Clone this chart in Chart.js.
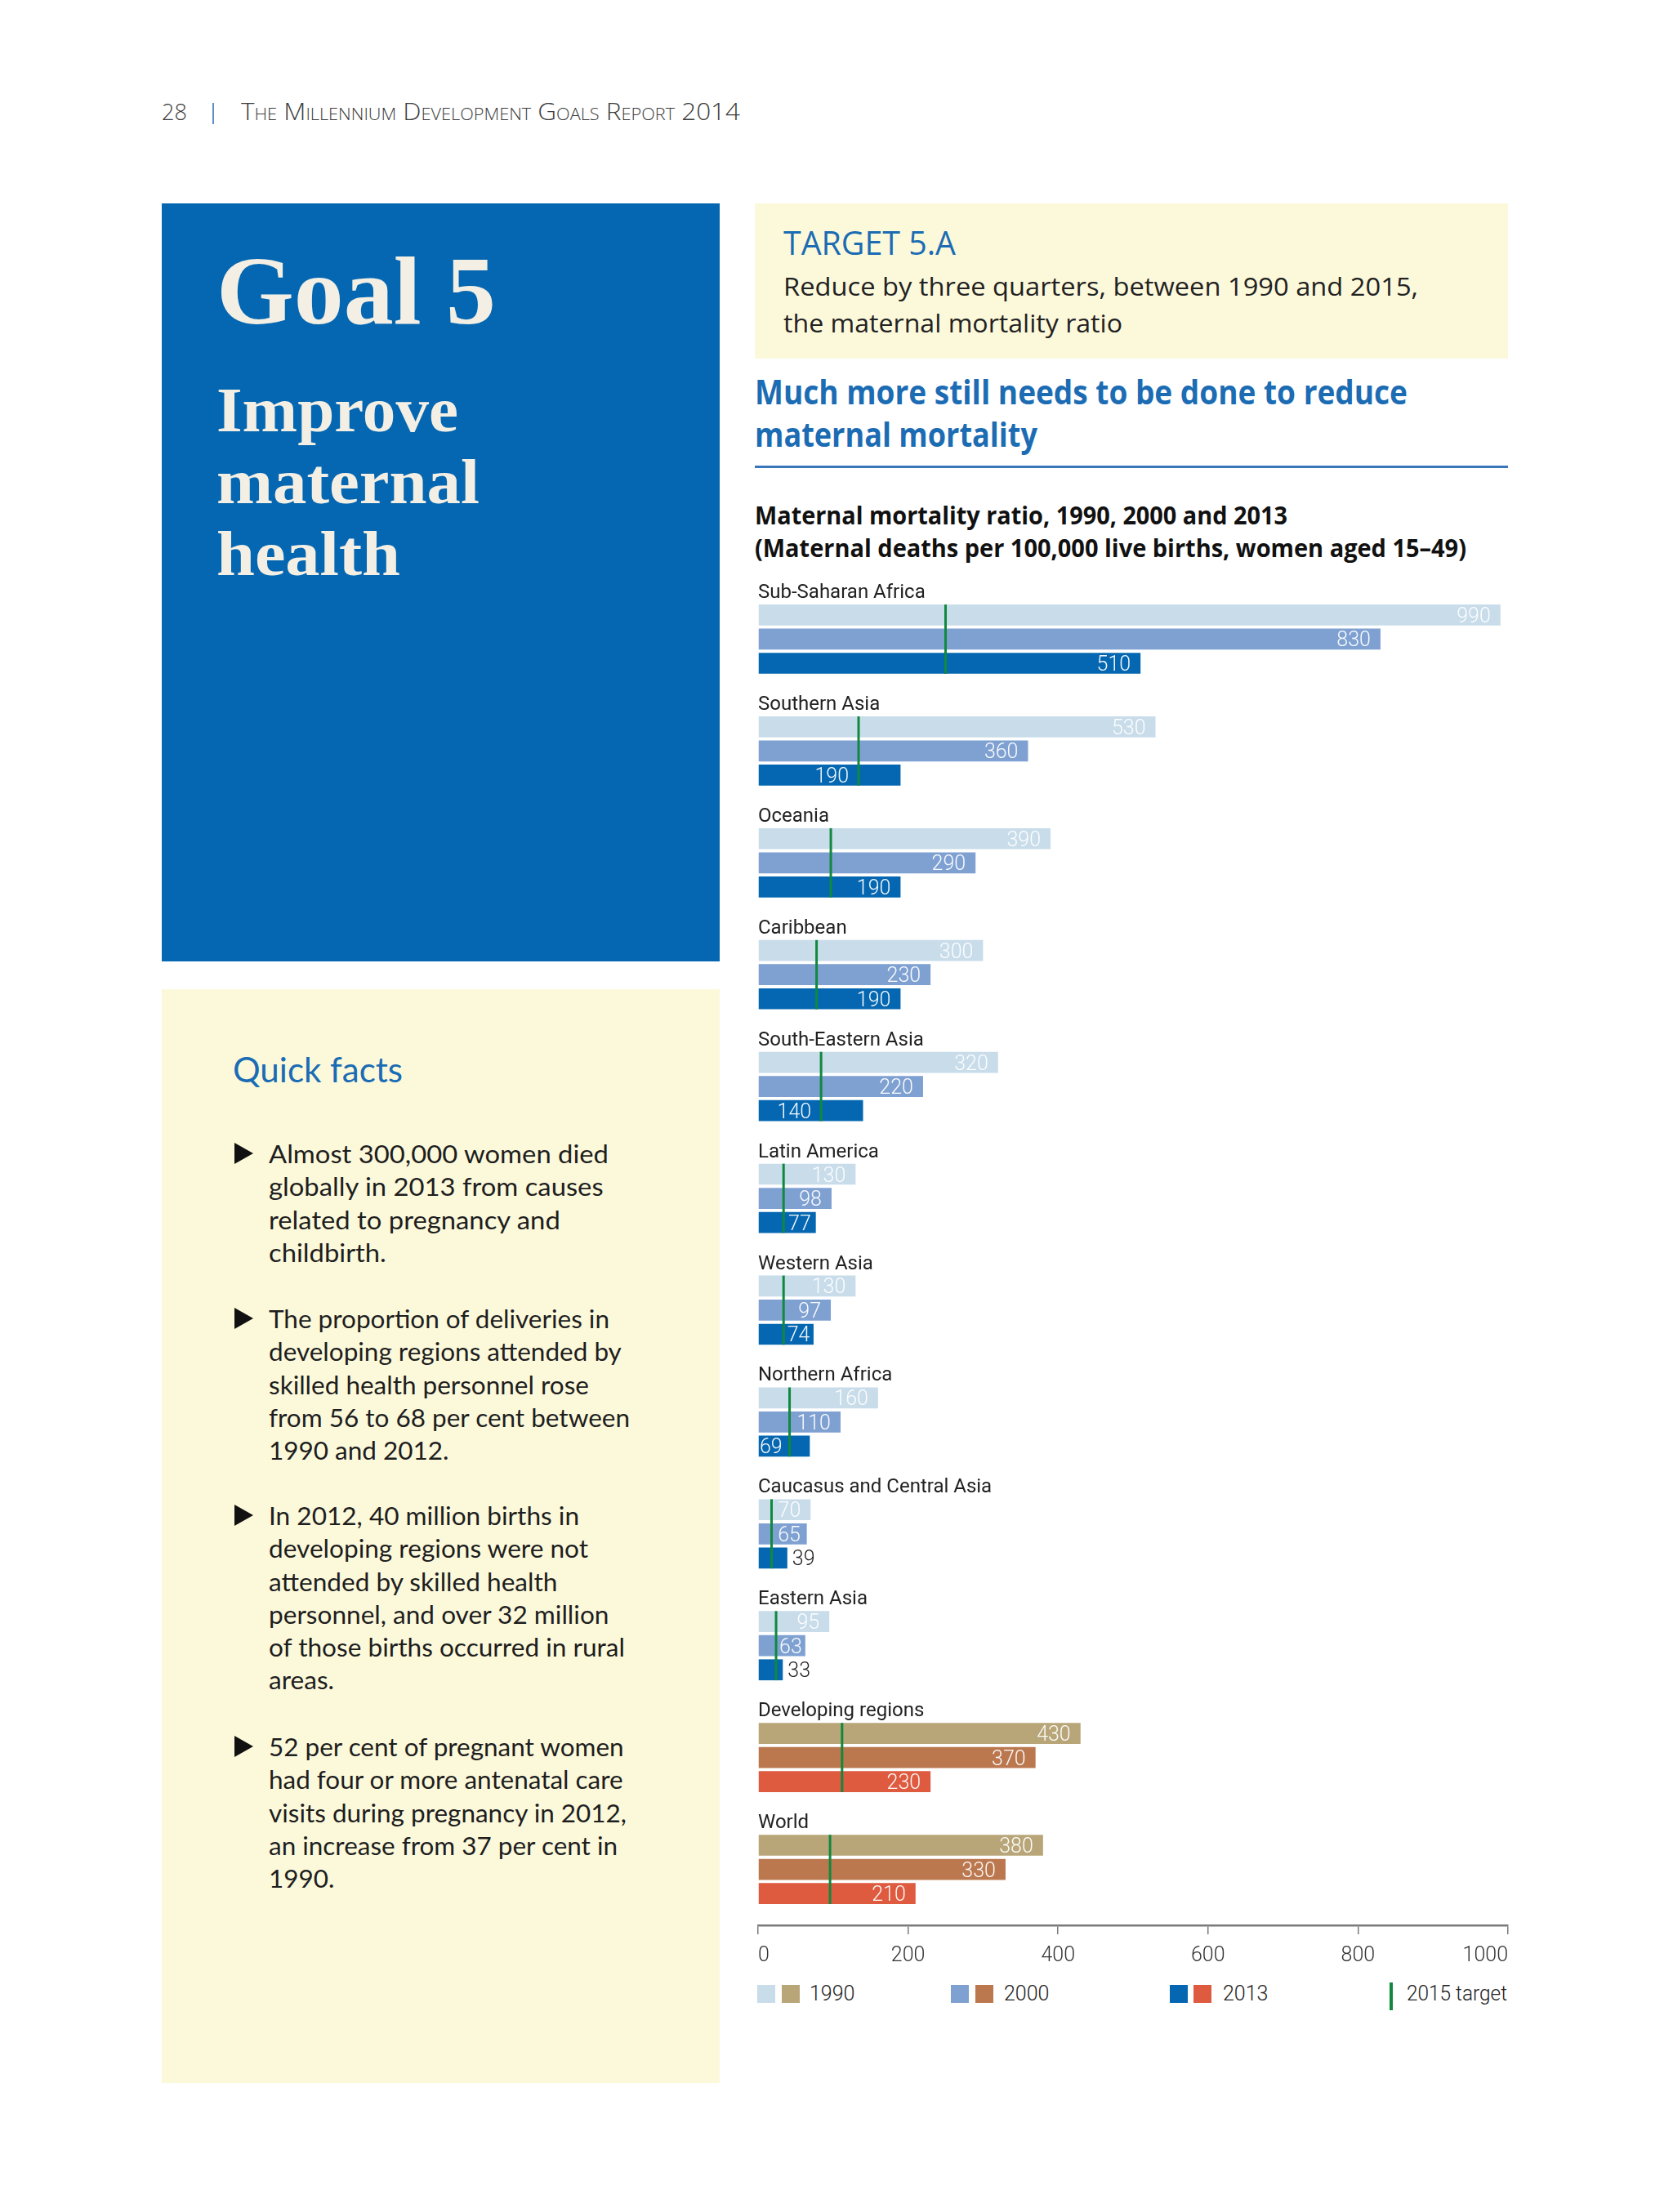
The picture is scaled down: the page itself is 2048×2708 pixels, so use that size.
<!DOCTYPE html>
<html>
<head>
<meta charset="utf-8">
<title>Goal 5 - Maternal mortality ratio</title>
<script src="https://cdn.jsdelivr.net/npm/chart.js@4.4.1/dist/chart.umd.min.js"></script>
<style>
  html, body { margin: 0; padding: 0; background: #fff; }
  #page { position: relative; width: 2048px; height: 2708px; overflow: hidden; background: #fff; }
  .box { position: absolute; }
  .t { position: absolute; white-space: nowrap; transform-origin: 0 0; line-height: 1.2; }
  .serif { font-family: 'Liberation Serif', 'DejaVu Serif', serif; font-weight: 700; color: #f3efe4; }
  .qf { font: 400 30px Lato, 'Open Sans', sans-serif; color: #1e1e1e; line-height: 40.3px; }
  .tri { position: absolute; width: 0; height: 0; border-left: 23px solid #111;
         border-top: 13px solid transparent; border-bottom: 13px solid transparent; }
  .sw { position: absolute; width: 22px; height: 22px; }
  .lg { font: 300 25px Roboto, sans-serif; color: #222; }
</style>
</head>
<body>
<div id="page">

  <!-- running header -->
  <div class="t" data-x="198" data-b="147" style="font:300 27px 'Open Sans';color:#3c3c3c">28</div>
  <div class="box" style="left:260px;top:126px;width:2px;height:26px;background:#5b8fc8"></div>
  <div class="t" data-x="295" data-b="147" data-w="611" style="font:300 29px 'Open Sans';font-variant:small-caps;color:#3c3c3c">The Millennium Development Goals Report 2014</div>

  <!-- goal block -->
  <div class="box" style="left:198px;top:249px;width:683px;height:928px;background:#0567b1"></div>
  <div class="t serif" data-x="265" data-b="396" data-w="342" style="font-size:118px">Goal 5</div>
  <div class="t serif" data-x="265" data-b="528" data-w="296" style="font-size:78px">Improve</div>
  <div class="t serif" data-x="265" data-b="616" data-w="322" style="font-size:78px">maternal</div>
  <div class="t serif" data-x="265" data-b="704" data-w="225" style="font-size:78px">health</div>

  <!-- target box -->
  <div class="box" style="left:924px;top:249px;width:922px;height:190px;background:#fcf9db"></div>
  <div class="t" data-x="959" data-b="312" data-w="211" style="font:400 40px 'Open Sans';color:#1b6cb3">TARGET 5.A</div>
  <div class="t" data-x="959" data-b="362" data-w="777" style="font:400 31px 'Open Sans';color:#222">Reduce by three quarters, between 1990 and 2015,</div>
  <div class="t" data-x="959" data-b="407" data-w="415" style="font:400 31px 'Open Sans';color:#222">the maternal mortality ratio</div>

  <!-- heading -->
  <div class="t" data-x="924" data-b="495" data-w="799" style="font:700 42px 'Open Sans';color:#1c6cb4">Much more still needs to be done to reduce</div>
  <div class="t" data-x="924" data-b="547" data-w="346" style="font:700 42px 'Open Sans';color:#1c6cb4">maternal mortality</div>
  <div class="box" style="left:924px;top:570px;width:922px;height:3px;background:#3a76b9"></div>

  <!-- chart title -->
  <div class="t" data-x="924" data-b="642" data-w="652" style="font:700 31px 'Open Sans';color:#111">Maternal mortality ratio, 1990, 2000 and 2013</div>
  <div class="t" data-x="924" data-b="682" data-w="871" style="font:700 31px 'Open Sans';color:#111">(Maternal deaths per 100,000 live births, women aged 15–49)</div>

  <!-- chart -->
  <div class="box" style="left:900px;top:680px;width:980px;height:1737px">
    <canvas id="mmrChart" width="980" height="1737"></canvas>
  </div>

  <!-- legend -->
  <div class="sw" style="left:927px;top:2430px;background:#c8dcea"></div>
  <div class="sw" style="left:957px;top:2430px;background:#b8a679"></div>
  <div class="t lg" data-x="991" data-b="2449">1990</div>
  <div class="sw" style="left:1164px;top:2430px;background:#7fa1d2"></div>
  <div class="sw" style="left:1194px;top:2430px;background:#bb784f"></div>
  <div class="t lg" data-x="1229" data-b="2449">2000</div>
  <div class="sw" style="left:1432px;top:2430px;background:#0567b1"></div>
  <div class="sw" style="left:1461px;top:2430px;background:#de5b40"></div>
  <div class="t lg" data-x="1497" data-b="2449">2013</div>
  <div class="box" style="left:1701px;top:2427px;width:4px;height:34px;background:#10893e"></div>
  <div class="t lg" data-x="1722" data-b="2449" data-w="123">2015 target</div>

  <!-- quick facts -->
  <div class="box" style="left:198px;top:1211px;width:683px;height:1339px;background:#fcf9db"></div>
  <div class="t" data-x="285" data-b="1325" data-w="208" style="font:400 42px Lato, 'Open Sans';color:#1a6cb4">Quick facts</div>

  <div class="tri" style="left:287px;top:1399px"></div>
  <div class="t qf" data-x="329" data-b="1424" data-w="416">Almost 300,000 women died<br>globally in 2013 from causes<br>related to pregnancy and<br>childbirth.</div>

  <div class="tri" style="left:287px;top:1601px"></div>
  <div class="t qf" data-x="329" data-b="1626" data-w="442">The proportion of deliveries in<br>developing regions attended by<br>skilled health personnel rose<br>from 56 to 68 per cent between<br>1990 and 2012.</div>

  <div class="tri" style="left:287px;top:1842px"></div>
  <div class="t qf" data-x="329" data-b="1867" data-w="436">In 2012, 40 million births in<br>developing regions were not<br>attended by skilled health<br>personnel, and over 32 million<br>of those births occurred in rural<br>areas.</div>

  <div class="tri" style="left:287px;top:2125px"></div>
  <div class="t qf" data-x="329" data-b="2150" data-w="438">52 per cent of pregnant women<br>had four or more antenatal care<br>visits during pregnancy in 2012,<br>an increase from 37 per cent in<br>1990.</div>

</div>

<script>
// ---------- data ----------
const regions = [
  'Sub-Saharan Africa', 'Southern Asia', 'Oceania', 'Caribbean', 'South-Eastern Asia',
  'Latin America', 'Western Asia', 'Northern Africa', 'Caucasus and Central Asia',
  'Eastern Asia', 'Developing regions', 'World'
];
const aggregates = ['Developing regions', 'World'];
const years = ['1990', '2000', '2013'];

const mmr1990 = [990, 530, 390, 300, 320, 130, 130, 160, 70, 95, 430, 380];
const mmr2000 = [830, 360, 290, 230, 220, 98, 97, 110, 65, 63, 370, 330];
const mmr2013 = [510, 190, 190, 190, 140, 77, 74, 69, 39, 33, 230, 210];

// 2015 target marks, as drawn
const target2015 = [250, 134, 97, 78, 84, 34, 34, 42, 18, 24, 112, 96];

const xTicks = [0, 200, 400, 600, 800, 1000];

// ---------- colours ----------
const regionColors = ['#c8dcea', '#7fa1d2', '#0567b1'];
const aggregateColors = ['#b8a679', '#bb784f', '#de5b40'];
const targetColor = '#10893e';

function barColors(yearIndex) {
  return regions.map(r => aggregates.includes(r) ? aggregateColors[yearIndex] : regionColors[yearIndex]);
}

// ---------- page text placement (baseline + width fit) ----------
function placeText() {
  document.querySelectorAll('.t').forEach(el => {
    const mark = document.createElement('span');
    mark.style.cssText = 'display:inline-block;width:0;height:0;vertical-align:baseline';
    el.insertBefore(mark, el.firstChild);
    el.style.left = el.dataset.x + 'px';
    el.style.top = '0px';
    const off = mark.getBoundingClientRect().top - el.getBoundingClientRect().top;
    el.style.top = (parseFloat(el.dataset.b) - off) + 'px';
    if (el.dataset.w) {
      const w = el.getBoundingClientRect().width;
      el.style.transform = 'scaleX(' + (parseFloat(el.dataset.w) / w).toFixed(4) + ')';
    }
  });
}
placeText();

// ---------- value label placement, keeps clear of the target mark ----------
function valueLabelX(w, xEnd, xLine, x0) {
  const pad = 12;
  if (xEnd - pad - w >= xLine + 6) return { x: xEnd - pad - w, inside: true };
  if (xLine - x0 >= w + 20) return { x: xLine - 12 - w, inside: true };
  if (xEnd - xLine >= w + 4) return { x: (xLine + xEnd - w) / 2, inside: true };
  if (xLine - x0 >= w + 4) return { x: x0 + 2, inside: true };
  return { x: xEnd + 6, inside: false };
}

const annotatePlugin = {
  id: 'annotate',
  afterDatasetsDraw(chart) {
    const { ctx, chartArea, scales: { x } } = chart;
    const metas = [0, 1, 2].map(i => chart.getDatasetMeta(i));
    const x0 = x.getPixelForValue(0);

    ctx.save();
    regions.forEach((name, i) => {
      const first = metas[0].data[i];
      const last = metas[2].data[i];
      const yTop = first.y - first.height / 2;
      const yBottom = last.y + last.height / 2;
      const xLine = x.getPixelForValue(target2015[i]);

      // 2015 target mark
      ctx.strokeStyle = targetColor;
      ctx.lineWidth = 3;
      ctx.beginPath();
      ctx.moveTo(xLine, yTop);
      ctx.lineTo(xLine, yBottom);
      ctx.stroke();

      // region name above its group
      ctx.font = '400 24px Roboto';
      ctx.fillStyle = '#222';
      ctx.textAlign = 'left';
      ctx.textBaseline = 'alphabetic';
      ctx.fillText(name, chartArea.left, yTop - 8);

      // values
      ctx.font = '300 25px Roboto';
      metas.forEach((meta, d) => {
        const bar = meta.data[i];
        const text = String(chart.data.datasets[d].data[i]);
        const w = ctx.measureText(text).width;
        const pos = valueLabelX(w, bar.x, xLine, x0);
        ctx.fillStyle = pos.inside ? 'rgba(255,255,255,0.95)' : '#222';
        ctx.fillText(text, pos.x, bar.y + 9);
      });
    });
    ctx.restore();
  }
};

new Chart(document.getElementById('mmrChart'), {
  type: 'bar',
  data: {
    labels: regions,
    datasets: [
      { label: years[0], data: mmr1990, backgroundColor: barColors(0) },
      { label: years[1], data: mmr2000, backgroundColor: barColors(1) },
      { label: years[2], data: mmr2013, backgroundColor: barColors(2) }
    ]
  },
  options: {
    indexAxis: 'y',
    responsive: false,
    animation: false,
    layout: { padding: { top: 34, left: 28, right: 34, bottom: 0 } },
    datasets: {
      bar: { categoryPercentage: 0.647, barPercentage: 0.871, borderWidth: 0 }
    },
    plugins: {
      legend: { display: false },
      tooltip: { enabled: false }
    },
    scales: {
      x: {
        type: 'linear',
        min: 0,
        max: 1000,
        afterBuildTicks: s => { s.ticks = xTicks.map(v => ({ value: v })); },
        afterFit: s => { s.height = 60; },
        ticks: {
          align: 'inner',
          padding: 12,
          color: '#333',
          font: { family: 'Roboto', weight: '300', size: 25 },
          callback: v => String(v)
        },
        grid: { drawOnChartArea: false, drawTicks: true, tickLength: 11, color: '#7a7a7a', lineWidth: 1.5 },
        border: { display: true, color: '#7a7a7a', width: 2.5 }
      },
      y: {
        display: false,
        grid: { display: false }
      }
    }
  },
  plugins: [annotatePlugin]
});
</script>
</body>
</html>
